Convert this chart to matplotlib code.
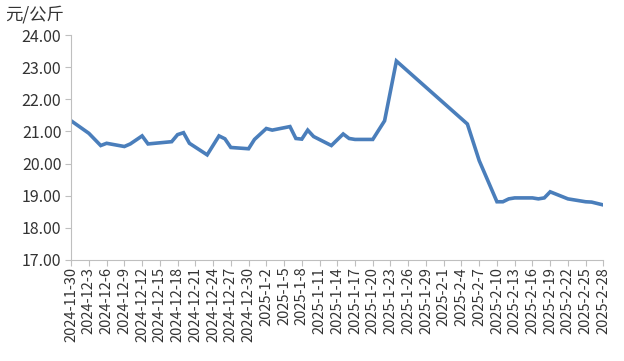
import pandas as pd
import matplotlib.pyplot as plt

plt.rcParams['font.family'] = ['Noto Sans CJK SC', 'DejaVu Sans']

dates = ['2024-11-30', '2024-12-03', '2024-12-05', '2024-12-06', '2024-12-09', '2024-12-10',
         '2024-12-12', '2024-12-13', '2024-12-17', '2024-12-18', '2024-12-19', '2024-12-20',
         '2024-12-23', '2024-12-25', '2024-12-26', '2024-12-27', '2024-12-30', '2024-12-31',
         '2025-01-02', '2025-01-03', '2025-01-06', '2025-01-07', '2025-01-08', '2025-01-09',
         '2025-01-10', '2025-01-13', '2025-01-15', '2025-01-16', '2025-01-17', '2025-01-20',
         '2025-01-22', '2025-01-24', '2025-02-05', '2025-02-07', '2025-02-10', '2025-02-11',
         '2025-02-12', '2025-02-13', '2025-02-16', '2025-02-17', '2025-02-18', '2025-02-19',
         '2025-02-22', '2025-02-23', '2025-02-25', '2025-02-26', '2025-02-28']
prices = [21.33, 20.94, 20.56, 20.63, 20.53, 20.61,
          20.86, 20.61, 20.68, 20.90, 20.96, 20.63,
          20.27, 20.86, 20.77, 20.50, 20.46, 20.75,
          21.09, 21.04, 21.15, 20.78, 20.76, 21.04,
          20.84, 20.56, 20.92, 20.78, 20.75, 20.75,
          21.33, 23.19, 21.23, 20.09, 18.81, 18.81,
          18.90, 18.93, 18.93, 18.90, 18.93, 19.12,
          18.90, 18.87, 18.81, 18.80, 18.71]

x = pd.to_datetime(dates)
ticks = pd.date_range('2024-11-30', '2025-02-28', freq='3D')
tick_labels = [f"{d.year}-{d.month}-{d.day}" for d in ticks]

fig = plt.figure(figsize=(6.24, 3.61), dpi=100)
ax = fig.add_axes([0.114, 0.28, 0.853, 0.623])
ax.plot(x, prices, color='#4a7ebb', linewidth=2.6, solid_joinstyle='miter')

ax.set_xlim(ticks[0], ticks[-1])
ax.set_ylim(17, 24)
ax.set_xticks(ticks)
ax.set_xticklabels(tick_labels, rotation=90, fontsize=10.5, color='#333333')
ax.set_yticks(range(17, 25))
ax.set_yticklabels([f"{v:.2f}" for v in range(17, 25)], fontsize=11.5, color='#333333')

for s in ['top', 'right']:
    ax.spines[s].set_visible(False)
for s in ['left', 'bottom']:
    ax.spines[s].set_color('#bfbfbf')
ax.tick_params(axis='both', colors='#bfbfbf', length=4, labelcolor='#333333')
ax.tick_params(axis='x', pad=1)
ax.tick_params(axis='y', pad=3)

fig.text(0.008, 0.985, '元/公斤', fontsize=12.5, color='#333333', va='top', ha='left')

plt.savefig('out.png', dpi=100)
